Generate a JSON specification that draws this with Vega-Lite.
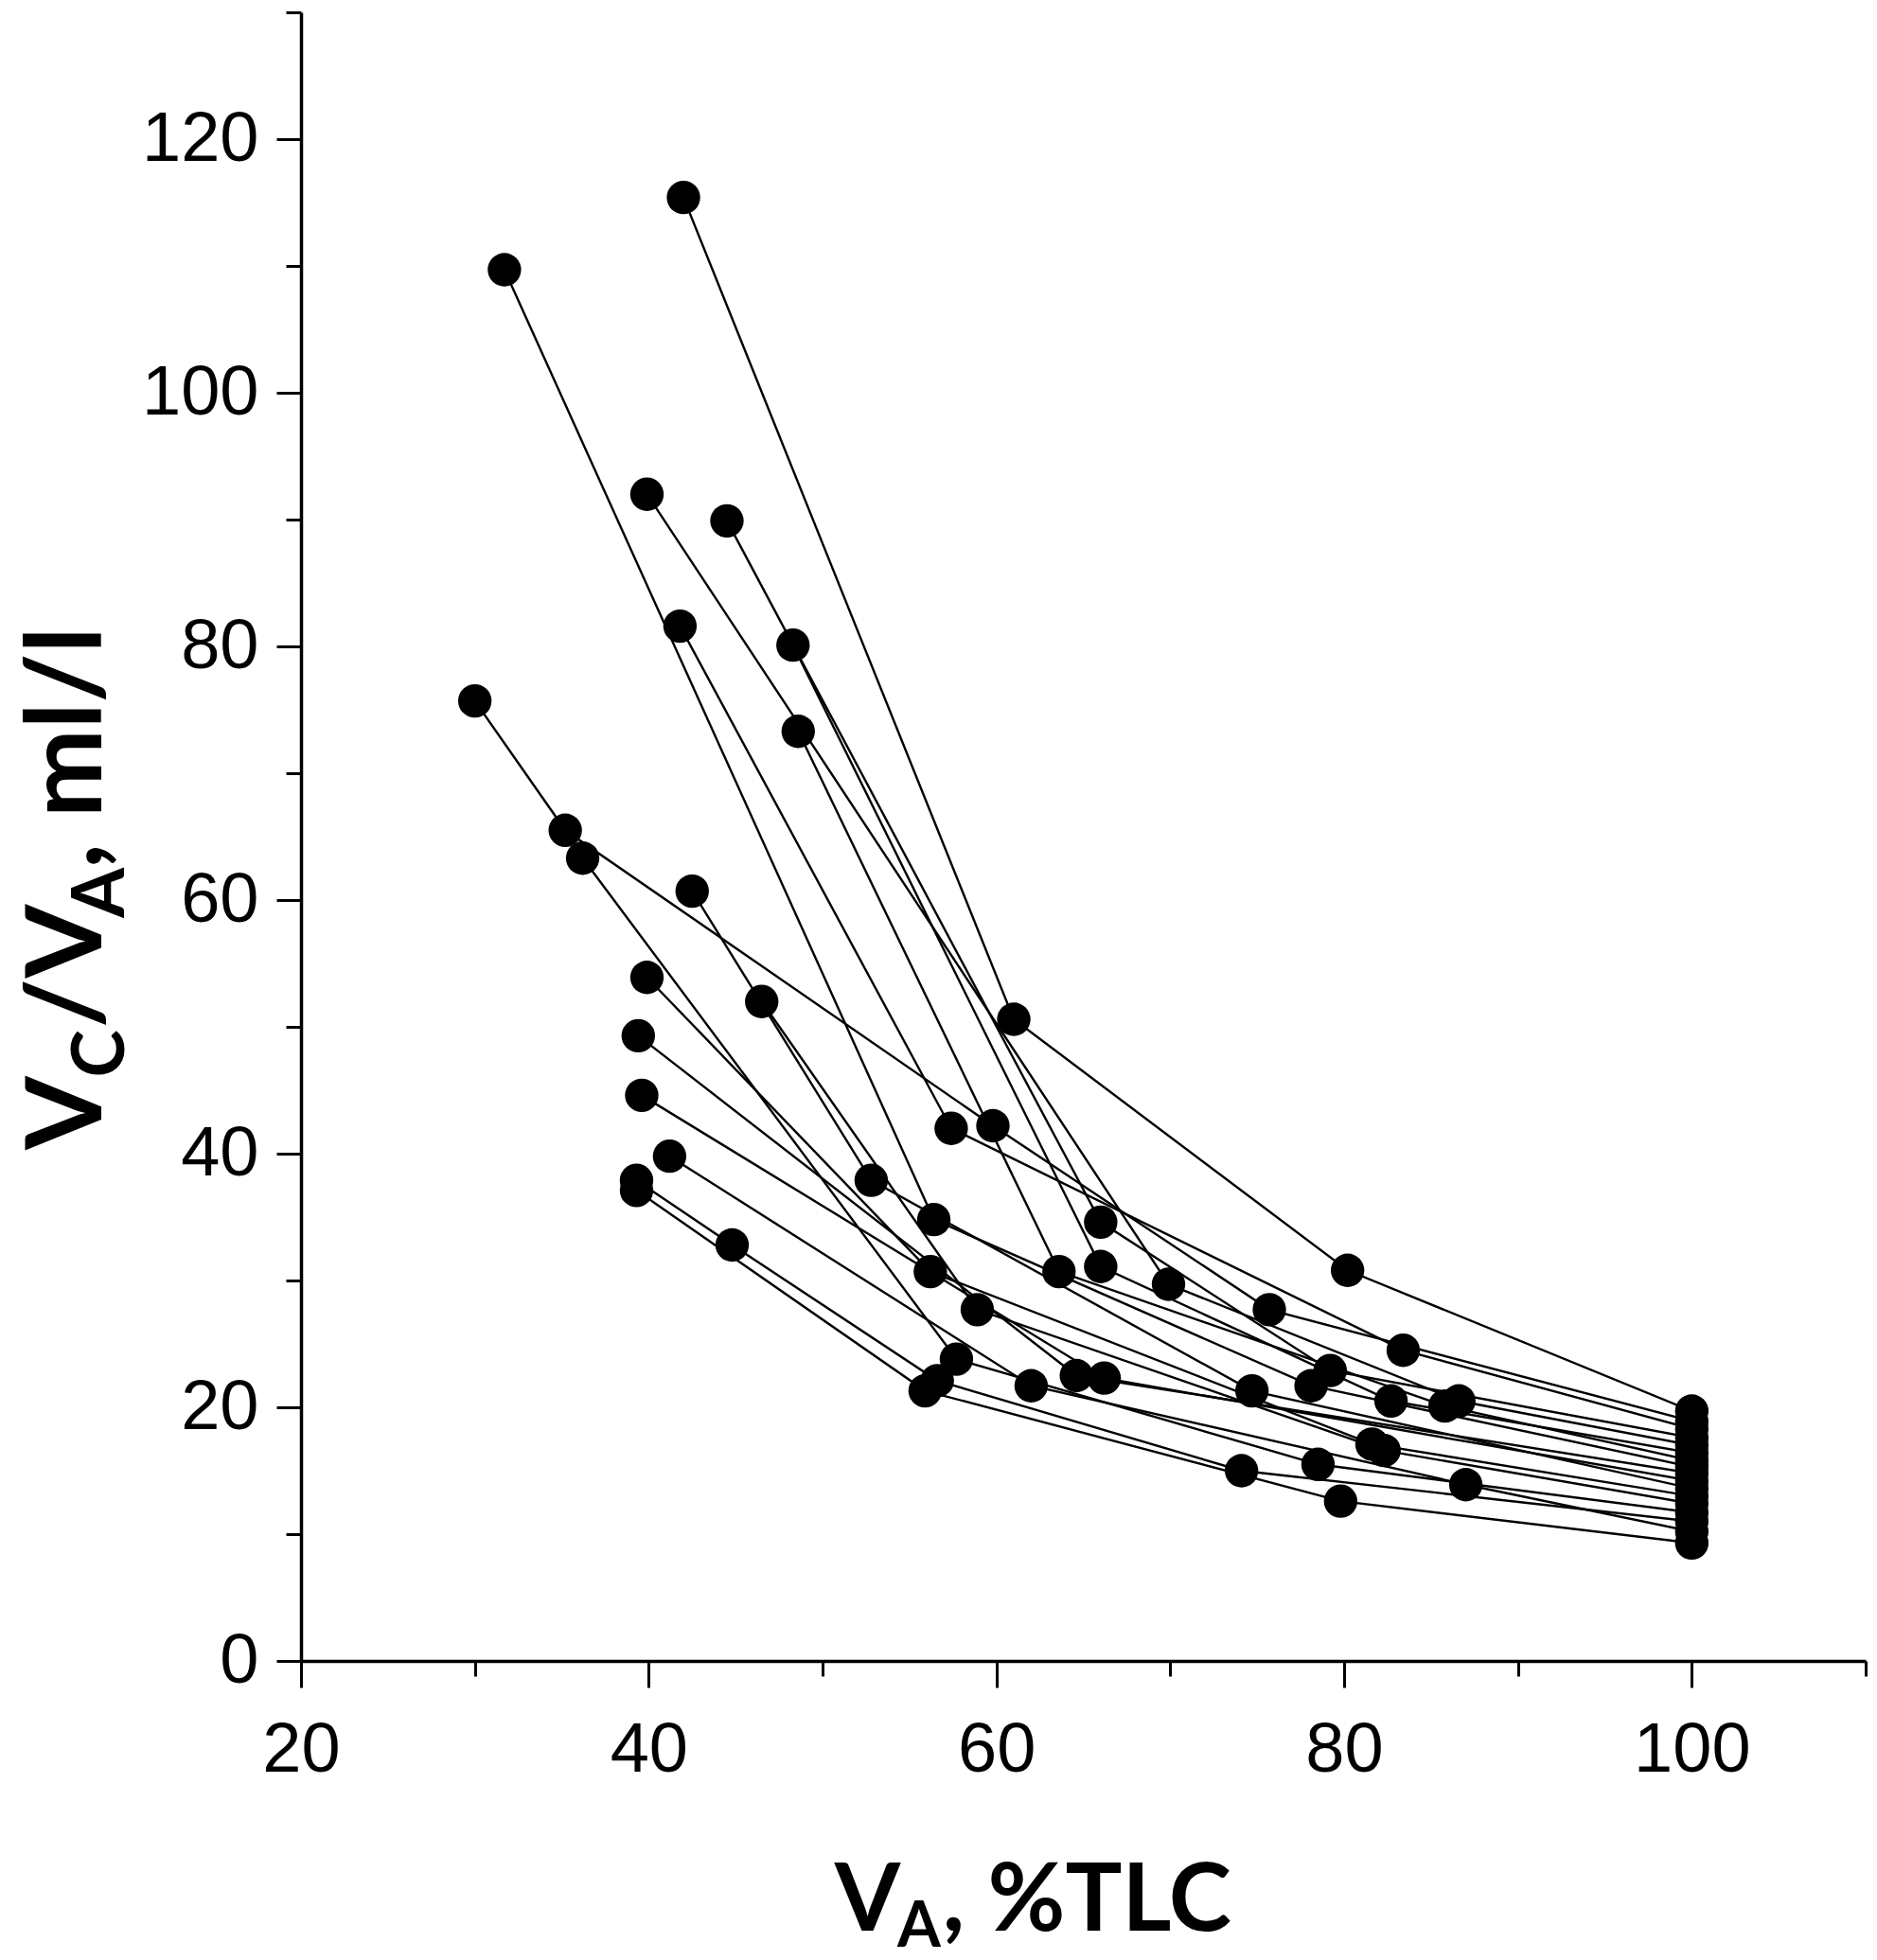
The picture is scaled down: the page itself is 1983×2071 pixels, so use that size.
{
  "$schema": "https://vega.github.io/schema/vega-lite/v6.json",
  "width": 1653,
  "height": 1742,
  "autosize": {"type": "none"},
  "padding": {"left": 318, "top": 13, "right": 12, "bottom": 316},
  "background": "white",
  "config": {
    "view": {"stroke": null},
    "axis": {
      "grid": false,
      "title": null,
      "domainColor": "black",
      "domainWidth": 3.5,
      "tickColor": "black",
      "tickWidth": 3,
      "labelFont": "Liberation Sans",
      "labelFontSize": 74,
      "labelColor": "black",
      "labelFlush": false,
      "labelOverlap": false
    },
    "text": {"font": "Lato", "fontWeight": "bold", "color": "black", "align": "left", "baseline": "alphabetic"}
  },
  "datasets": {
    "subjects": [
      {"s": 1, "o": 1, "x": 42.0, "y": 115.4},
      {"s": 1, "o": 2, "x": 61.0, "y": 50.6},
      {"s": 1, "o": 3, "x": 80.2, "y": 30.8},
      {"s": 1, "o": 4, "x": 100, "y": 19.7},
      {"s": 2, "o": 1, "x": 31.7, "y": 109.7},
      {"s": 2, "o": 2, "x": 56.4, "y": 34.8},
      {"s": 2, "o": 3, "x": 78.1, "y": 21.7},
      {"s": 2, "o": 4, "x": 100, "y": 15.3},
      {"s": 3, "o": 1, "x": 41.8, "y": 81.6},
      {"s": 3, "o": 2, "x": 57.4, "y": 42.0},
      {"s": 3, "o": 3, "x": 83.4, "y": 24.5},
      {"s": 3, "o": 4, "x": 100, "y": 18.3},
      {"s": 4, "o": 1, "x": 39.9, "y": 92.0},
      {"s": 4, "o": 2, "x": 69.9, "y": 29.7},
      {"s": 4, "o": 3, "x": 86.6, "y": 20.5},
      {"s": 4, "o": 4, "x": 100, "y": 17.0},
      {"s": 5, "o": 1, "x": 48.6, "y": 73.3},
      {"s": 5, "o": 2, "x": 63.6, "y": 30.7},
      {"s": 5, "o": 3, "x": 85.8, "y": 20.1},
      {"s": 5, "o": 4, "x": 100, "y": 15.8},
      {"s": 6, "o": 1, "x": 44.5, "y": 89.9},
      {"s": 6, "o": 2, "x": 66.0, "y": 34.6},
      {"s": 6, "o": 3, "x": 79.2, "y": 22.9},
      {"s": 6, "o": 4, "x": 100, "y": 17.6},
      {"s": 7, "o": 1, "x": 48.3, "y": 80.1},
      {"s": 7, "o": 2, "x": 66.0, "y": 31.1},
      {"s": 7, "o": 3, "x": 82.7, "y": 20.5},
      {"s": 7, "o": 4, "x": 100, "y": 16.4},
      {"s": 8, "o": 1, "x": 30.0, "y": 75.7},
      {"s": 8, "o": 2, "x": 35.2, "y": 65.5},
      {"s": 8, "o": 3, "x": 59.8, "y": 42.2},
      {"s": 8, "o": 4, "x": 75.7, "y": 27.7},
      {"s": 8, "o": 5, "x": 100, "y": 18.9},
      {"s": 9, "o": 1, "x": 36.2, "y": 63.3},
      {"s": 9, "o": 2, "x": 57.7, "y": 23.8},
      {"s": 9, "o": 3, "x": 78.5, "y": 15.5},
      {"s": 9, "o": 4, "x": 100, "y": 11.7},
      {"s": 10, "o": 1, "x": 42.5, "y": 60.7},
      {"s": 10, "o": 2, "x": 52.8, "y": 37.9},
      {"s": 10, "o": 3, "x": 74.7, "y": 21.3},
      {"s": 10, "o": 4, "x": 100, "y": 13.6},
      {"s": 11, "o": 1, "x": 39.9, "y": 53.9},
      {"s": 11, "o": 2, "x": 56.2, "y": 30.7},
      {"s": 11, "o": 3, "x": 81.6, "y": 17.1},
      {"s": 11, "o": 4, "x": 100, "y": 13.0},
      {"s": 12, "o": 1, "x": 46.5, "y": 52.0},
      {"s": 12, "o": 2, "x": 58.9, "y": 27.7},
      {"s": 12, "o": 3, "x": 82.3, "y": 16.6},
      {"s": 12, "o": 4, "x": 100, "y": 12.4},
      {"s": 13, "o": 1, "x": 39.4, "y": 49.3},
      {"s": 13, "o": 2, "x": 64.6, "y": 22.5},
      {"s": 13, "o": 3, "x": 100, "y": 14.8},
      {"s": 14, "o": 1, "x": 39.6, "y": 44.6},
      {"s": 14, "o": 2, "x": 66.2, "y": 22.3},
      {"s": 14, "o": 3, "x": 100, "y": 14.2},
      {"s": 15, "o": 1, "x": 41.2, "y": 39.8},
      {"s": 15, "o": 2, "x": 62.0, "y": 21.7},
      {"s": 15, "o": 3, "x": 87.0, "y": 13.9},
      {"s": 15, "o": 4, "x": 100, "y": 10.2},
      {"s": 16, "o": 1, "x": 39.3, "y": 37.9},
      {"s": 16, "o": 2, "x": 44.8, "y": 32.8},
      {"s": 16, "o": 3, "x": 56.6, "y": 22.1},
      {"s": 16, "o": 4, "x": 74.1, "y": 15.0},
      {"s": 16, "o": 5, "x": 100, "y": 11.0},
      {"s": 17, "o": 1, "x": 39.3, "y": 37.1},
      {"s": 17, "o": 2, "x": 55.9, "y": 21.3},
      {"s": 17, "o": 3, "x": 79.8, "y": 12.6},
      {"s": 17, "o": 4, "x": 100, "y": 9.3}
    ]
  },
  "layer": [
    {
      "data": {"name": "subjects"},
      "mark": {"type": "line", "color": "black", "strokeWidth": 2.4},
      "encoding": {
        "x": {
          "field": "x",
          "type": "quantitative",
          "scale": {"domain": [20, 110], "nice": false, "zero": false},
          "axis": {
            "values": [20, 30, 40, 50, 60, 70, 80, 90, 100, 110],
            "labelExpr": "datum.value % 20 === 0 && datum.value <= 100 ? datum.label : ''",
            "tickSize": {"condition": {"test": "datum.value % 20 === 0", "value": 28}, "value": 16},
            "labelPadding": 30
          }
        },
        "y": {
          "field": "y",
          "type": "quantitative",
          "scale": {"domain": [0, 130], "nice": false, "zero": false},
          "axis": {
            "values": [0, 10, 20, 30, 40, 50, 60, 70, 80, 90, 100, 110, 120, 130],
            "labelExpr": "datum.value % 20 === 0 && datum.value <= 120 ? datum.label : ''",
            "tickSize": {"condition": {"test": "datum.value % 20 === 0", "value": 26}, "value": 16},
            "labelPadding": 19
          }
        },
        "detail": {"field": "s"},
        "order": {"field": "o"}
      }
    },
    {
      "data": {"name": "subjects"},
      "mark": {"type": "circle", "color": "black", "size": 1250, "opacity": 1},
      "encoding": {
        "x": {"field": "x", "type": "quantitative"},
        "y": {"field": "y", "type": "quantitative"}
      }
    },
    {
      "data": {"values": [{}]},
      "mark": {"type": "text", "text": "V", "fontSize": 100},
      "encoding": {"x": {"datum": 50.7, "type": "quantitative"}, "y": {"datum": -21.3, "type": "quantitative"}}
    },
    {
      "data": {"values": [{}]},
      "mark": {"type": "text", "text": "A", "fontSize": 66},
      "encoding": {"x": {"datum": 54.3, "type": "quantitative"}, "y": {"datum": -22.5, "type": "quantitative"}}
    },
    {
      "data": {"values": [{}]},
      "mark": {"type": "text", "text": ", %TLC", "fontSize": 100},
      "encoding": {"x": {"datum": 56.9, "type": "quantitative"}, "y": {"datum": -21.3, "type": "quantitative"}}
    },
    {
      "data": {"values": [{}]},
      "mark": {"type": "text", "text": "V", "fontSize": 112, "angle": 270},
      "encoding": {"x": {"datum": 8.5, "type": "quantitative"}, "y": {"datum": 40.3, "type": "quantitative"}}
    },
    {
      "data": {"values": [{}]},
      "mark": {"type": "text", "text": "C", "fontSize": 76, "angle": 270},
      "encoding": {"x": {"datum": 9.8, "type": "quantitative"}, "y": {"datum": 46.0, "type": "quantitative"}}
    },
    {
      "data": {"values": [{}]},
      "mark": {"type": "text", "text": "/V", "fontSize": 112, "angle": 270},
      "encoding": {"x": {"datum": 8.5, "type": "quantitative"}, "y": {"datum": 49.9, "type": "quantitative"}}
    },
    {
      "data": {"values": [{}]},
      "mark": {"type": "text", "text": "A", "fontSize": 76, "angle": 270},
      "encoding": {"x": {"datum": 9.8, "type": "quantitative"}, "y": {"datum": 58.6, "type": "quantitative"}}
    },
    {
      "data": {"values": [{}]},
      "mark": {"type": "text", "text": ", ml/l", "fontSize": 112, "angle": 270},
      "encoding": {"x": {"datum": 8.5, "type": "quantitative"}, "y": {"datum": 62.5, "type": "quantitative"}}
    }
  ]
}
